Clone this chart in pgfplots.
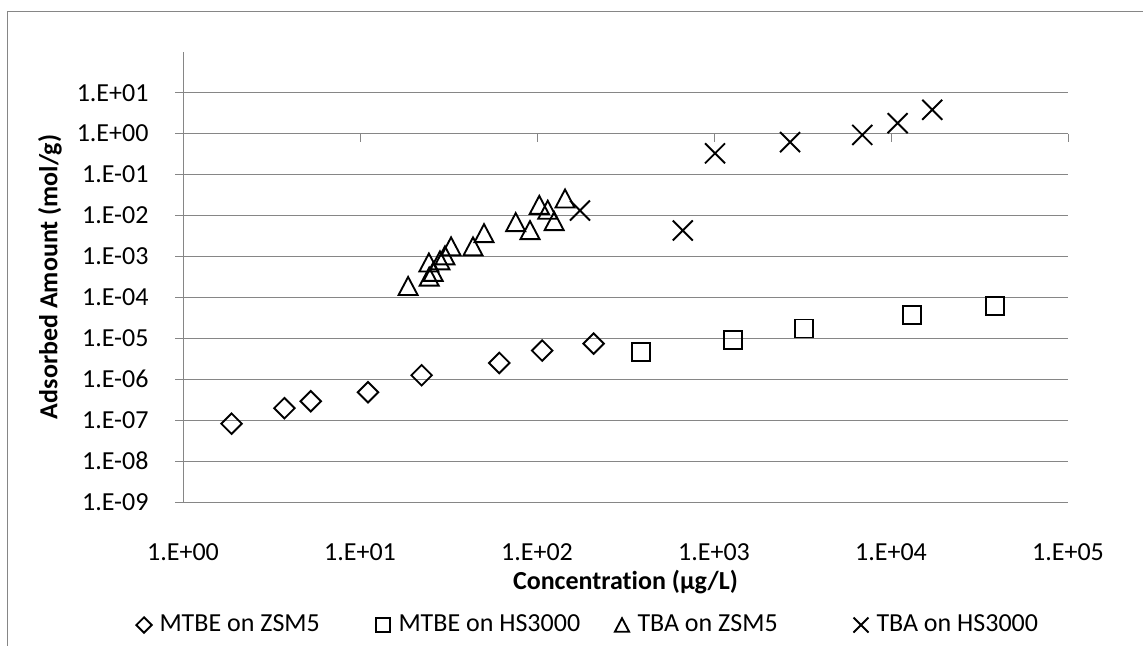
\documentclass[border=0pt]{standalone}
\usepackage{fontspec}
\setmainfont{Carlito}[Ligatures={NoCommon}]
\usepackage{pgfplots}
\pgfplotsset{compat=1.18}
\definecolor{gridgray}{RGB}{134,134,134}
\pgfdeclareplotmark{xdiamond}{%
  \pgfpathmoveto{\pgfqpoint{0pt}{\pgfplotmarksize}}%
  \pgfpathlineto{\pgfqpoint{\pgfplotmarksize}{0pt}}%
  \pgfpathlineto{\pgfqpoint{0pt}{-\pgfplotmarksize}}%
  \pgfpathlineto{\pgfqpoint{-\pgfplotmarksize}{0pt}}%
  \pgfpathclose\pgfusepathqstroke}
\pgfdeclareplotmark{xtri}{%
  \pgfpathmoveto{\pgfqpoint{0pt}{\pgfplotmarksize}}%
  \pgfpathlineto{\pgfqpoint{1.055\pgfplotmarksize}{-\pgfplotmarksize}}%
  \pgfpathlineto{\pgfqpoint{-1.055\pgfplotmarksize}{-\pgfplotmarksize}}%
  \pgfpathclose\pgfusepathqstroke}
\pgfdeclareplotmark{xcross}{%
  \pgfpathmoveto{\pgfqpoint{-\pgfplotmarksize}{-\pgfplotmarksize}}%
  \pgfpathlineto{\pgfqpoint{\pgfplotmarksize}{\pgfplotmarksize}}%
  \pgfpathmoveto{\pgfqpoint{-\pgfplotmarksize}{\pgfplotmarksize}}%
  \pgfpathlineto{\pgfqpoint{\pgfplotmarksize}{-\pgfplotmarksize}}%
  \pgfusepathqstroke}
\begin{document}
\fontsize{10.4pt}{12.5pt}\selectfont
\begin{tikzpicture}
\useasboundingbox (0,0) rectangle (457.2pt,258pt);
\draw[gridgray, line width=0.5pt] (2.9pt,-5pt) -- (2.9pt,253.3pt) -- (470pt,253.3pt);
\begin{axis}[
  at={(73.2pt,57.2pt)}, anchor=south west,
  width=354pt, height=180.1pt, scale only axis,
  xmode=log, ymode=log,
  xmin=1, xmax=1e5, ymin=1e-9, ymax=1e2,
  xminorticks=false, yminorticks=false,
  axis x line*=bottom, axis y line*=left,
  axis line style={gridgray, line width=0.4pt},
  xtick={1,10,100,1000,10000,100000},
  xticklabels={1.E+00,1.E+01,1.E+02,1.E+03,1.E+04,1.E+05},
  ytick={1e-9,1e-8,1e-7,1e-6,1e-5,1e-4,1e-3,1e-2,1e-1,1,10},
  yticklabels={1.E-09,1.E-08,1.E-07,1.E-06,1.E-05,1.E-04,1.E-03,1.E-02,1.E-01,1.E+00,1.E+01},
  ymajorgrids, grid style={gridgray, line width=0.4pt},
  tick align=outside, major tick length=3.2pt,
  xtick style={draw=none},
  ytick style={gridgray, line width=0.4pt},
  xticklabel style={anchor=base, yshift=-20.2pt, inner sep=0pt},
  yticklabel style={anchor=east, xshift=-10.4pt, inner sep=0pt},
  xlabel={\bfseries Concentration (µg/L)},
  ylabel={\bfseries Adsorbed Amount (mol/g)},
  xlabel style={at={(axis description cs:0.5,-0.1954)}, anchor=base, inner sep=0pt},
  ylabel style={at={(axis description cs:-0.1419,0.5)}, anchor=base, inner sep=0pt},
  clip=false,
  legend columns=4,
  legend cell align=left,
  legend image code/.code={\draw[#1, every mark/.append style={scale=0.75}] plot coordinates {(0pt,0pt)}; \path (-3.9pt,0pt) (3.9pt,0pt);},
  legend style={at={(axis description cs:-0.0562,-0.2732)}, anchor=west, draw=none, fill=none, inner sep=0pt,
    nodes={inner sep=0pt},
    /tikz/every odd column/.style={column sep=2.1pt},
    /tikz/every even column/.style={column sep=0pt}},
]
\draw[gridgray, line width=0.4pt] (axis cs:10,1) -- ++(0pt,-3.2pt);
\draw[gridgray, line width=0.4pt] (axis cs:100,1) -- ++(0pt,-3.2pt);
\draw[gridgray, line width=0.4pt] (axis cs:1000,1) -- ++(0pt,-3.2pt);
\draw[gridgray, line width=0.4pt] (axis cs:10000,1) -- ++(0pt,-3.2pt);
\draw[gridgray, line width=0.4pt] (axis cs:100000,1) -- ++(0pt,-3.2pt);

\addplot[only marks, mark=xdiamond, mark size=4.1pt, mark options={draw=black, line width=0.75pt}] coordinates {
(1.88,8.2e-8) (3.74,1.96e-7) (5.27,2.9e-7) (11.1,4.8e-7) (22.3,1.25e-6) (61.2,2.5e-6) (107,5.0e-6) (209,7.4e-6)};
\addlegendentry{\makebox[85.3pt][l]{MTBE on ZSM5}}

\addplot[only marks, mark=square, mark size=3.6pt, mark options={draw=black, line width=0.75pt}] coordinates {
(385,4.6e-6) (1285,8.9e-6) (3222,1.73e-5) (13200,3.7e-5) (38700,6.3e-5)};
\addlegendentry{\makebox[85.3pt][l]{MTBE on HS3000}}

\addplot[only marks, mark=xtri, mark size=3.6pt, mark options={draw=black, line width=0.75pt}] coordinates {
(18.7,1.9e-4) (24.6,3.2e-4) (25.9,4.2e-4) (24.5,7.1e-4) (28.3,8.0e-4) (30.2,1.06e-3) (32.7,1.76e-3) (43.5,1.76e-3) (50.2,3.7e-3) (75.8,6.9e-3) (91.3,4.4e-3) (103,1.82e-2) (115,1.38e-2) (125,7.3e-3) (144,2.6e-2)};
\addlegendentry{\makebox[85.3pt][l]{TBA on ZSM5}}

\addplot[only marks, mark=xcross, mark size=4pt, mark options={draw=black, line width=0.75pt}] coordinates {
(175,1.32e-2) (666,4.3e-3) (1014,0.33) (2690,0.62) (6880,0.93) (10900,1.8) (17100,3.83)};
\addlegendentry{\makebox[85.3pt][l]{TBA on HS3000}}
\end{axis}
\end{tikzpicture}
\end{document}
